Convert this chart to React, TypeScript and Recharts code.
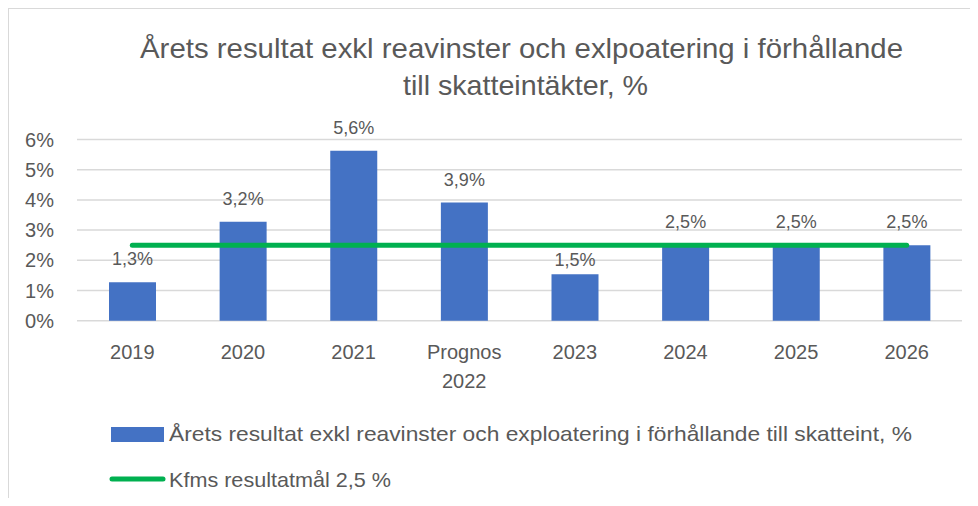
import { ComposedChart, Bar, Line, XAxis, YAxis, CartesianGrid, LabelList } from 'recharts';

const categories = ['2019', '2020', '2021', 'Prognos\n2022', '2023', '2024', '2025', '2026'];
const resultat = [1.27, 3.28, 5.63, 3.91, 1.54, 2.5, 2.5, 2.5];
const resultatLabels = ['1,3%', '3,2%', '5,6%', '3,9%', '1,5%', '2,5%', '2,5%', '2,5%'];
const resultatmal = [2.5, 2.5, 2.5, 2.5, 2.5, 2.5, 2.5, 2.5];
const yTicks = [0, 1, 2, 3, 4, 5, 6];

const titleLines = [
  'Årets resultat exkl reavinster och exlpoatering i förhållande',
  'till skatteintäkter, %',
];
const barName = 'Årets resultat exkl reavinster och exploatering i förhållande till skatteint, %';
const lineName = 'Kfms resultatmål 2,5 %';

const data = categories.map((c, i) => ({
  category: c,
  resultat: resultat[i],
  label: resultatLabels[i],
  mal: resultatmal[i],
}));

const FONT = '"Liberation Sans", Arial, sans-serif';
const TEXT = '#595959';
const BLUE = '#4472C4';
const GREEN = '#00B050';

// the 2023 label sits lower in the original, under the target line
const labelNudge: Record<number, number> = { 4: 9 };

const XTick = (props: any) => {
  const { x, y, payload } = props;
  const lines = String(payload.value).split('\n');
  return (
    <g>
      {lines.map((l, i) => (
        <text key={i} x={x} y={y + 38 + i * 29} textAnchor='middle' fill={TEXT} fontSize={20} fontFamily={FONT}>
          {l}
        </text>
      ))}
    </g>
  );
};

const YTick = (props: any) => {
  const { x, y, payload } = props;
  return (
    <text x={x - 23} y={y + 7} textAnchor='end' fill={TEXT} fontSize={20} fontFamily={FONT}>
      {payload.value}%
    </text>
  );
};

const BarLabel = (props: any) => {
  const { x, y, width, value, index } = props;
  const nudge = labelNudge[index] || 0;
  return (
    <text x={x + width / 2} y={y - 17 + nudge} textAnchor='middle' fill={TEXT} fontSize={18} fontFamily={FONT}>
      {value}
    </text>
  );
};

export default function App() {
  return (
    <div style={{ position: 'relative', width: 978, height: 506, margin: -8, overflow: 'hidden', background: '#fff' }}>
      <div
        style={{
          position: 'absolute',
          left: 8,
          top: 8,
          width: 1000,
          height: 600,
          borderLeft: '1px solid #D9D9D9',
          borderTop: '1px solid #D9D9D9',
        }}
      />
      <svg width={978} height={110} style={{ position: 'absolute', left: 0, top: 0 }}>
        <text x={521.5} y={58} textAnchor='middle' fill={TEXT} fontSize={28} fontFamily={FONT} textLength={763} lengthAdjust='spacingAndGlyphs'>
          {titleLines[0]}
        </text>
        <text x={525.5} y={95} textAnchor='middle' fill={TEXT} fontSize={28} fontFamily={FONT} textLength={245} lengthAdjust='spacingAndGlyphs'>
          {titleLines[1]}
        </text>
      </svg>
      <div style={{ position: 'absolute', left: 0, top: 0 }}>
        <ComposedChart width={978} height={506} data={data} margin={{ top: 139.5, right: 16, bottom: 125.3, left: 0 }}>
          <CartesianGrid vertical={false} stroke='#D9D9D9' strokeWidth={1.5} />
          <XAxis dataKey='category' axisLine={false} tickLine={false} tickSize={0} tickMargin={0} height={60} tick={<XTick />} interval={0} />
          <YAxis domain={[0, 6]} ticks={yTicks} axisLine={false} tickLine={false} tickSize={0} tickMargin={0} width={77} tick={<YTick />} />
          <Bar dataKey='resultat' fill={BLUE} barSize={47} isAnimationActive={false}>
            <LabelList dataKey='label' content={<BarLabel />} />
          </Bar>
          <Line dataKey='mal' stroke={GREEN} strokeWidth={5} strokeLinecap='round' dot={false} activeDot={false} isAnimationActive={false} />
        </ComposedChart>
      </div>
      <svg width={978} height={100} style={{ position: 'absolute', left: 0, top: 406 }}>
        <rect x={111} y={21} width={53} height={15} fill={BLUE} />
        <text x={169} y={35} fill={TEXT} fontSize={21} fontFamily={FONT} textLength={743} lengthAdjust='spacingAndGlyphs'>
          {barName}
        </text>
        <line x1={112} y1={73} x2={163} y2={73} stroke={GREEN} strokeWidth={5} strokeLinecap='round' />
        <text x={169} y={81} fill={TEXT} fontSize={21} fontFamily={FONT} textLength={222} lengthAdjust='spacingAndGlyphs'>
          {lineName}
        </text>
      </svg>
    </div>
  );
}
